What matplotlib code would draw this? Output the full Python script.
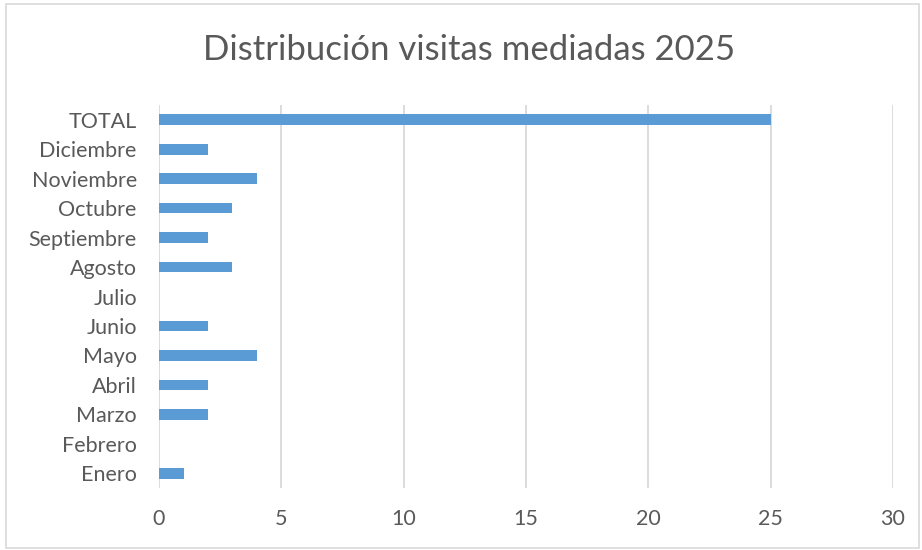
import matplotlib
matplotlib.use("Agg")
import matplotlib.pyplot as plt
from matplotlib.patches import Rectangle

plt.rcParams['font.family'] = ['Lato', 'DejaVu Sans']

meses = ['Enero', 'Febrero', 'Marzo', 'Abril', 'Mayo', 'Junio', 'Julio',
         'Agosto', 'Septiembre', 'Octubre', 'Noviembre', 'Diciembre', 'TOTAL']
visitas = [1, 0, 2, 2, 4, 2, 0, 3, 2, 3, 4, 2, 25]
xticks = [0, 5, 10, 15, 20, 25, 30]
titulo = 'Distribución visitas mediadas 2025'

texto = '#595959'
rejilla = '#d9d9d9'

fig = plt.figure(figsize=(9.22, 5.5), dpi=100)
fig.patches.append(Rectangle((0.006, 0.004), 0.991, 0.988, transform=fig.transFigure,
                             fill=False, edgecolor=rejilla, linewidth=1.2))
ax = fig.add_axes([0.1725, 0.1127, 0.796, 0.6963])

ax.barh(range(len(meses)), visitas, height=0.36, color='#5b9bd5', zorder=3)
ax.set_xlim(0, 30)
ax.set_ylim(-0.5, len(meses) - 0.5)
ax.set_xticks(xticks)
ax.set_yticks(range(len(meses)))
ax.set_yticklabels(meses)
ax.grid(axis='x', color=rejilla, linewidth=1.3, zorder=0)
for s in ax.spines.values():
    s.set_visible(False)
ax.tick_params(length=0, labelsize=15.5, colors=texto)
ax.tick_params(axis='y', pad=16)
ax.tick_params(axis='x', pad=15)

fig.text(0.509, 0.909, titulo, ha='center', va='center', fontsize=25, color=texto)

fig.savefig('out.png', dpi=100)
